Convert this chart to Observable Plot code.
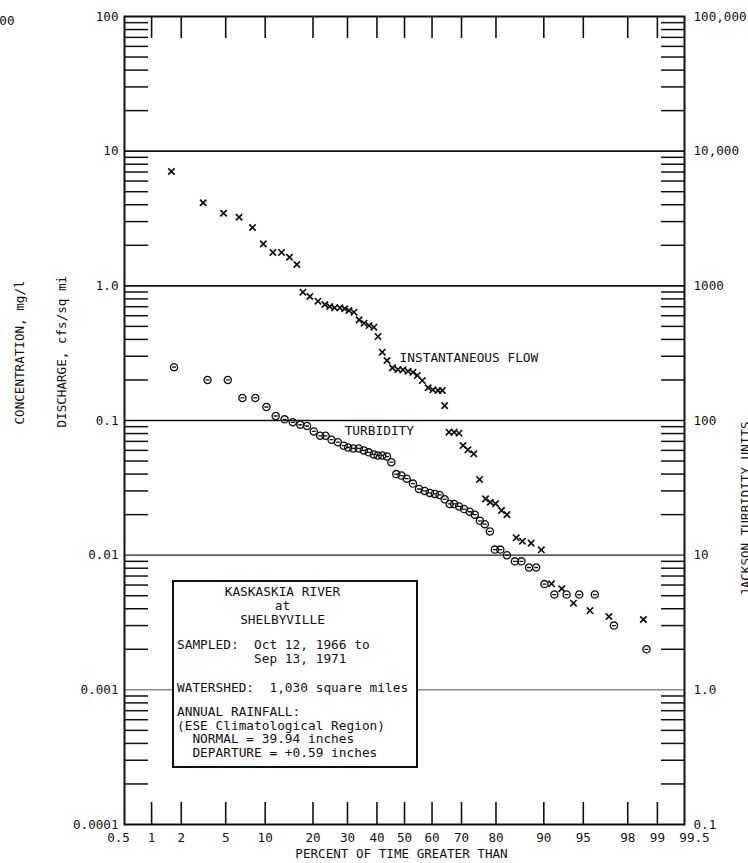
<!DOCTYPE html>
<html>
<head>
<meta charset="utf-8">
<script src="https://cdn.jsdelivr.net/npm/d3@7"></script>
<script src="https://cdn.jsdelivr.net/npm/@observablehq/plot@0.6"></script>
<style>
  body { margin: 0; background: #fff; }
  #chart { position: relative; width: 748px; height: 863px; overflow: hidden; }
  #chart svg { display: block; }
  .info {
    position: absolute; left: 172px; top: 580px; width: 246px; height: 188px;
    box-sizing: border-box; border: 2.6px solid #111; background: #fff;
    font: 12.8px "DejaVu Sans Mono", monospace; color: #111; white-space: pre;
  }
  .info div { position: absolute; left: 3px; line-height: 12px; }
  .info .c { left: 0; width: 217px; text-align: center; }
</style>
</head>
<body>
<div id="chart"></div>
<script>
// Flow-duration points: percent of time exceeded, discharge in cfs per sq mi
const flowPercent = [1.6, 3.2, 4.8, 6.4, 8.1, 9.7, 11.3, 12.9, 14.5, 16.1,
  17.5, 19.2, 21.3, 23.2, 24.6, 26.0, 27.6, 29.1, 30.5, 32.1, 33.8, 35.5, 37.2, 38.9, 40.4,
  41.9, 43.6, 45.6, 47.6, 49.4, 51.3, 53.1, 54.7, 56.5, 58.6, 60.3, 62.1, 63.6, 64.4,
  65.9, 67.6, 69.2, 70.5, 72.0, 73.8, 75.5,
  77.2, 78.5, 79.9, 81.4, 82.7,
  84.8, 86.1, 87.8, 89.6,
  91.2, 92.6, 94.0, 95.6, 97.0, 98.6];
const flowCfs = [7.06, 4.14, 3.46, 3.23, 2.71, 2.05, 1.77, 1.77, 1.63, 1.44,
  0.897, 0.833, 0.769, 0.727, 0.702, 0.687, 0.687, 0.676, 0.656, 0.637, 0.559, 0.528, 0.507, 0.493, 0.420,
  0.3215, 0.279, 0.246, 0.239, 0.238, 0.232, 0.228, 0.216, 0.198, 0.175, 0.169, 0.167, 0.167, 0.129,
  0.0819, 0.0819, 0.0805, 0.0652, 0.0606, 0.0566, 0.0365,
  0.0262, 0.0247, 0.0241, 0.0215, 0.0200,
  0.01346, 0.0127, 0.01228, 0.01096,
  0.00613, 0.00563, 0.0044, 0.00388, 0.0035, 0.00333];

// Turbidity-duration points: percent of time exceeded, Jackson turbidity units
const turbPercent = [1.7, 3.5, 5.2, 6.8, 8.5, 10.2, 11.8, 13.5, 15.2, 16.9, 18.5, 20.2, 21.9, 23.4,
  25.1, 27.0, 28.8, 30.2, 31.9, 33.7, 35.4, 37.1, 38.9, 40.3, 41.9, 43.6, 45.2, 47.0, 48.9, 50.8,
  53.1, 55.3, 57.4, 59.2, 61.0, 62.7, 64.4, 66.1, 67.6, 69.2, 70.8, 72.6, 74.1, 75.6, 77.0, 78.4,
  79.7, 81.1, 82.7, 84.5, 85.9, 87.4, 88.7, 90.1, 91.6, 93.2, 94.6, 96.0, 97.3, 98.7];
const turbJtu = [249, 200, 200, 147, 147, 126, 108, 102, 97, 93, 91, 83, 77, 77,
  72, 69, 65, 63, 62, 62, 60, 58, 56, 55, 55, 54, 49, 40, 39, 37,
  34, 31, 30, 29, 28.5, 28, 26, 24, 24, 23, 22, 21, 20, 18, 17, 15,
  11, 11, 10, 9, 9, 8.1, 8.1, 6.1, 5.1, 5.1, 5.1, 5.1, 3.0, 2.0];

// Axis ticks and labels
const xTickPercents = [1, 2, 5, 10, 20, 30, 40, 50, 60, 70, 80, 90, 95, 98, 99];
const xTickLabels = ["1", "2", "5", "10", "20", "30", "40", "50", "60", "70", "80", "90", "95", "98", "99"];
const xEdgePercents = [0.5, 99.5];
const xEdgeLabels = ["0.5", "99.5"];
const decades = [0.0001, 0.001, 0.01, 0.1, 1, 10, 100];
const dischargeLabels = ["0.0001", "0.001", "0.01", "0.1", "1.0", "10", "100"];
const jtuLabels = ["0.1", "1.0", "10", "100", "1000", "10,000", "100,000"];
const JTU_PER_UNIT = 1000; // right axis = left axis x 1000

// Inverse standard normal CDF (Acklam) for the probability axis
function probit(p) {
  const a = [-3.969683028665376e+01, 2.209460984245205e+02, -2.759285104469687e+02, 1.383577518672690e+02, -3.066479806614716e+01, 2.506628277459239e+00];
  const b = [-5.447609879822406e+01, 1.615858368580409e+02, -1.556989798598866e+02, 6.680131188771972e+01, -1.328068155288572e+01];
  const c = [-7.784894002430293e-03, -3.223964580411365e-01, -2.400758277161838e+00, -2.549732539343734e+00, 4.374664141464968e+00, 2.938163982698783e+00];
  const d = [7.784695709041462e-03, 3.224671290700398e-01, 2.445134137142996e+00, 3.754408661907416e+00];
  const pl = 0.02425;
  if (p < pl) {
    const q = Math.sqrt(-2 * Math.log(p));
    return (((((c[0]*q+c[1])*q+c[2])*q+c[3])*q+c[4])*q+c[5]) / ((((d[0]*q+d[1])*q+d[2])*q+d[3])*q+1);
  }
  if (p > 1 - pl) {
    const q = Math.sqrt(-2 * Math.log(1 - p));
    return -(((((c[0]*q+c[1])*q+c[2])*q+c[3])*q+c[4])*q+c[5]) / ((((d[0]*q+d[1])*q+d[2])*q+d[3])*q+1);
  }
  const q = p - 0.5, r = q * q;
  return (((((a[0]*r+a[1])*r+a[2])*r+a[3])*r+a[4])*r+a[5])*q / (((((b[0]*r+b[1])*r+b[2])*r+b[3])*r+b[4])*r+1);
}
const zOf = pct => probit(pct / 100);

const flow = flowPercent.map((p, i) => ({pct: p, cfs: flowCfs[i]}));
const turbidity = turbPercent.map((p, i) => ({pct: p, jtu: turbJtu[i]}));

const minorTicks = decades.slice(0, -1).flatMap(d => d3.range(2, 10).map(k => k * d));
const xLabelOf = new Map(xTickPercents.map((p, i) => [zOf(p), xTickLabels[i]]));
const leftLabelOf = new Map(decades.map((d, i) => [d, dischargeLabels[i]]));
const rightLabelOf = new Map(decades.map((d, i) => [d, jtuLabels[i]]));

// Circle with a crossbar, as typed on the original sheet
const theta = {
  draw(context, size) {
    const r = Math.sqrt(size / Math.PI);
    context.moveTo(r, 0);
    context.arc(0, 0, r, 0, 2 * Math.PI);
    context.moveTo(-r * 0.55, 0);
    context.lineTo(r * 0.55, 0);
  }
};

const frameW = 748 - 124 - 64, frameH = 863 - 16 - 39;

const svg = Plot.plot({
  width: 748,
  height: 863,
  marginLeft: 124,
  marginRight: 64,
  marginTop: 16,
  marginBottom: 39,
  style: {fontFamily: '"DejaVu Sans Mono", monospace', fontSize: "12.6px", color: "#111", background: "#fff"},
  x: {type: "linear", domain: [zOf(0.5), zOf(99.5)], label: null, axis: null},
  y: {type: "log", domain: [0.0001, 100], label: null, axis: null},
  marks: [
    // decade grid lines
    Plot.ruleY([10, 1, 0.1], {stroke: "#111", strokeWidth: 1.7}),
    Plot.ruleY([0.01], {stroke: "#222", strokeWidth: 1.1}),
    Plot.ruleY([0.001], {stroke: "#555", strokeWidth: 1}),
    // minor log ticks inside left and right edges
    Plot.ruleY(minorTicks, {insetRight: frameW - 24, stroke: "#111", strokeWidth: 1.5}),
    Plot.ruleY(minorTicks, {insetLeft: frameW - 23, stroke: "#111", strokeWidth: 1.5}),
    // probability ticks along top and bottom edges
    Plot.ruleX(xTickPercents.map(zOf), {insetBottom: frameH - 22, stroke: "#111", strokeWidth: 1.6}),
    Plot.ruleX(xTickPercents.map(zOf), {insetTop: frameH - 22, stroke: "#111", strokeWidth: 1.6}),
    Plot.frame({stroke: "#111", strokeWidth: 2}),
    // tick labels
    Plot.axisY(decades, {anchor: "left", tickSize: 0, tickPadding: 6, label: null, tickFormat: d => leftLabelOf.get(d)}),
    Plot.axisY(decades, {anchor: "right", tickSize: 0, tickPadding: 9, label: null, textAnchor: "start", tickFormat: d => rightLabelOf.get(d)}),
    Plot.axisX(xTickPercents.map(zOf), {anchor: "bottom", tickSize: 0, tickPadding: 9, label: null, tickFormat: z => xLabelOf.get(z)}),
    Plot.axisX([zOf(xEdgePercents[0])], {anchor: "bottom", tickSize: 0, tickPadding: 9, dx: -6, label: null, tickFormat: () => xEdgeLabels[0]}),
    Plot.axisX([zOf(xEdgePercents[1])], {anchor: "bottom", tickSize: 0, tickPadding: 9, dx: 10, label: null, tickFormat: () => xEdgeLabels[1]}),
    // outer concentration scale, mostly beyond the page edge
    Plot.text(["100"], {frameAnchor: "top-left", dx: -110, textAnchor: "end", fill: "#111"}),
    // axis titles
    Plot.text(["PERCENT OF TIME GREATER THAN"], {frameAnchor: "bottom", dy: 33, dx: -3, fill: "#111"}),
    Plot.text(["DISCHARGE, cfs/sq mi"], {frameAnchor: "left", rotate: -90, dx: -63, dy: 7, fill: "#111"}),
    Plot.text(["CONCENTRATION, mg/l"], {frameAnchor: "left", rotate: -90, dx: -105, dy: 4, fill: "#111"}),
    Plot.text(["JACKSON TURBIDITY UNITS"], {frameAnchor: "right", rotate: -90, dx: 61, dy: 1, fill: "#111"}),
    // data
    Plot.dot(turbidity, {x: d => zOf(d.pct), y: d => d.jtu / JTU_PER_UNIT, symbol: theta, r: 3.6, stroke: "#111", strokeWidth: 1.3, fill: "none"}),
    Plot.dot(flow, {x: d => zOf(d.pct), y: "cfs", symbol: "times", r: 3.0, stroke: "#111", strokeWidth: 1.7}),
    // series labels
    Plot.text(["INSTANTANEOUS FLOW"], {x: zOf(48.2), y: 0.294, textAnchor: "start", fontSize: 12.8, fill: "#111"}),
    Plot.text(["TURBIDITY"], {x: zOf(29.1), y: 0.0843, textAnchor: "start", fontSize: 12.8, fill: "#111"})
  ]
});

const chart = document.getElementById("chart");
chart.appendChild(svg);

// Station description box
const info = document.createElement("div");
info.className = "info";
const lines = [
  ["KASKASKIA RIVER", 593, true],
  ["at", 607, true],
  ["SHELBYVILLE", 621, true],
  ["SAMPLED:  Oct 12, 1966 to", 646, false],
  ["          Sep 13, 1971", 660, false],
  ["WATERSHED:  1,030 square miles", 689, false],
  ["ANNUAL RAINFALL:", 713, false],
  ["(ESE Climatological Region)", 727, false],
  ["  NORMAL = 39.94 inches", 740, false],
  ["  DEPARTURE = +0.59 inches", 754, false]
];
for (const [text, cy, centered] of lines) {
  const el = document.createElement("div");
  if (centered) el.className = "c";
  el.textContent = text;
  el.style.top = (cy - 6 - 582.6) + "px";
  info.appendChild(el);
}
chart.appendChild(info);
</script>
</body>
</html>
